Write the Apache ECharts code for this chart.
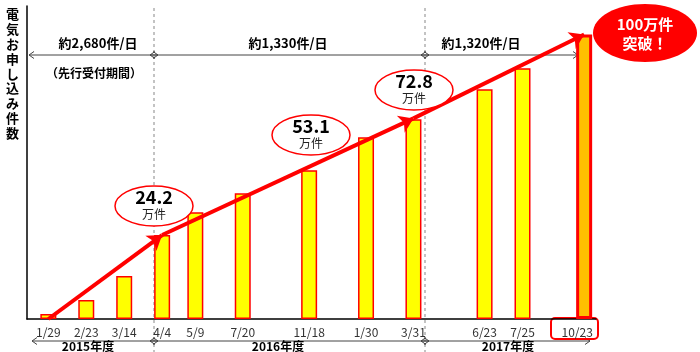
<!DOCTYPE html>
<html>
<head>
<meta charset="utf-8">
<script src="https://cdn.jsdelivr.net/npm/echarts@6/dist/echarts.min.js"></script>
<style>
  html, body { margin: 0; padding: 0; background: #fff; }
  #chart { width: 700px; height: 352px; }
</style>
</head>
<body>
<div id="chart"></div>
<script>
// 申込日と累計件数(万件)
const dateLabels = ['1/29', '2/23', '3/14', '4/4', '5/9', '7/20', '11/18', '1/30', '3/31', '6/23', '7/25', '10/23']
const applications = [1.8, 6.7, 15.1, 29.5, 37.5, 44.2, 52.3, 63.9, 70.2, 80.7, 88.1, 100]
// 軸のスロット (120 slots, 日付の間隔をそろえるため)
const slotCount = 120
const dateSlots = [4, 12, 20, 28, 35, 45, 59, 71, 81, 96, 104, 117]
// 傾向線 (日付の番号, 値)
const trendIdx = [0, 3, 8, 11]
const trendValues = [0, 29.5, 70.5, 100]

const FONT = '"Noto Sans CJK JP", "Noto Sans", sans-serif'

const categories = new Array(slotCount).fill('')
const barData = new Array(slotCount).fill(null)
dateSlots.forEach((s, i) => {
  categories[s] = dateLabels[i]
  barData[s] = applications[i]
})
const last = dateSlots[dateSlots.length - 1]
// 最後のラベルは枠の中に少し左寄せ
categories[last] = { value: dateLabels[dateLabels.length - 1], textStyle: { padding: [0, 14, 0, 0] } }
barData[last] = {
  value: applications[applications.length - 1],
  itemStyle: { color: '#FFC000', borderColor: '#FF0000', borderWidth: 3 }
}

const trendLines = []
for (let i = 0; i < trendIdx.length - 1; i++) {
  trendLines.push([
    { coord: [dateSlots[trendIdx[i]], trendValues[i]] },
    { coord: [dateSlots[trendIdx[i + 1]], trendValues[i + 1]] }
  ])
}

// 両矢印 (><)
function spanArrow(x1, x2, y) {
  const c = '#444'
  return [
    { type: 'line', shape: { x1: x1, y1: y, x2: x2, y2: y }, style: { stroke: c, lineWidth: 1 } },
    { type: 'polyline', shape: { points: [[x1 + 5, y - 3.5], [x1, y], [x1 + 5, y + 3.5]] }, style: { stroke: c, lineWidth: 1, fill: null } },
    { type: 'polyline', shape: { points: [[x2 - 5, y - 3.5], [x2, y], [x2 - 5, y + 3.5]] }, style: { stroke: c, lineWidth: 1, fill: null } }
  ]
}

function txt(x, y, text, font, color) {
  return {
    type: 'text', x: x, y: y,
    style: { text: text, font: font, fill: color || '#000', align: 'center', verticalAlign: 'middle' }
  }
}

function bubble(cx, cy, num) {
  return [
    { type: 'ellipse', shape: { cx: cx, cy: cy, rx: 39, ry: 20 }, style: { fill: '#fff', stroke: '#FF0000', lineWidth: 1.5 }, z: 10 },
    Object.assign(txt(cx, cy - 9, num, 'bold 18px ' + FONT), { z: 11 }),
    Object.assign(txt(cx, cy + 8, '万件', '12px ' + FONT, '#222'), { z: 11 })
  ]
}

const chart = echarts.init(document.getElementById('chart'))

chart.setOption({
  animation: false,
  backgroundColor: '#fff',
  grid: { left: 27, right: 104, top: 6, bottom: 33 },
  xAxis: {
    type: 'category',
    data: categories,
    axisTick: { show: false },
    axisLine: { lineStyle: { color: '#000', width: 1.5 } },
    axisLabel: { interval: 0, color: '#333', fontSize: 12, fontFamily: FONT, margin: 7 }
  },
  yAxis: {
    type: 'value',
    min: 0,
    max: 110,
    splitLine: { show: false },
    axisLabel: { show: false },
    axisTick: { show: false },
    axisLine: { show: true, lineStyle: { color: '#000', width: 1.5 } }
  },
  series: [{
    type: 'bar',
    data: barData,
    barWidth: 16,
    itemStyle: { color: '#FFFF00', borderColor: '#FF0000', borderWidth: 1.5 },
    markLine: {
      silent: true,
      symbol: ['none', 'arrow'],
      symbolSize: 14,
      label: { show: false },
      lineStyle: { color: '#FF0000', width: 4, type: 'solid' },
      data: trendLines
    }
  }],
  graphic: [
    { type: 'text', left: 6, top: 7, style: { text: '電\n気\nお\n申\nし\n込\nみ\n件\n数', font: 'bold 13px ' + FONT, lineHeight: 14.8, fill: '#000' } },
    { type: 'line', shape: { x1: 154, y1: 8, x2: 154, y2: 352 }, style: { stroke: '#888', lineDash: [3, 3], lineWidth: 1 } },
    { type: 'line', shape: { x1: 425, y1: 8, x2: 425, y2: 352 }, style: { stroke: '#888', lineDash: [3, 3], lineWidth: 1 } },
    ...spanArrow(29, 158, 55),
    ...spanArrow(150, 429, 55),
    ...spanArrow(421, 578, 55),
    txt(98, 43, '約2,680件/日', 'bold 13px ' + FONT),
    txt(94, 73, '（先行受付期間）', 'bold 12px ' + FONT),
    txt(288, 43, '約1,330件/日', 'bold 13px ' + FONT),
    txt(481, 43, '約1,320件/日', 'bold 13px ' + FONT),
    ...spanArrow(32, 158, 341),
    ...spanArrow(150, 429, 341),
    ...spanArrow(421, 590, 341),
    txt(88, 346, '2015年度', 'bold 12px ' + FONT),
    txt(278, 346, '2016年度', 'bold 12px ' + FONT),
    txt(508, 346, '2017年度', 'bold 12px ' + FONT),
    { type: 'rect', shape: { x: 551, y: 318, width: 47, height: 21, r: 4 }, style: { fill: null, stroke: '#FF0000', lineWidth: 2 } },
    ...bubble(154, 206, '24.2'),
    ...bubble(311, 135, '53.1'),
    ...bubble(414, 90, '72.8'),
    { type: 'ellipse', shape: { cx: 645, cy: 33, rx: 52, ry: 29 }, style: { fill: '#FF0000' }, z: 10 },
    Object.assign(txt(645, 24, '100万件', 'bold 15px ' + FONT, '#fff'), { z: 11 }),
    Object.assign(txt(645, 43, '突破！', 'bold 15px ' + FONT, '#fff'), { z: 11 })
  ]
})
</script>
</body>
</html>
